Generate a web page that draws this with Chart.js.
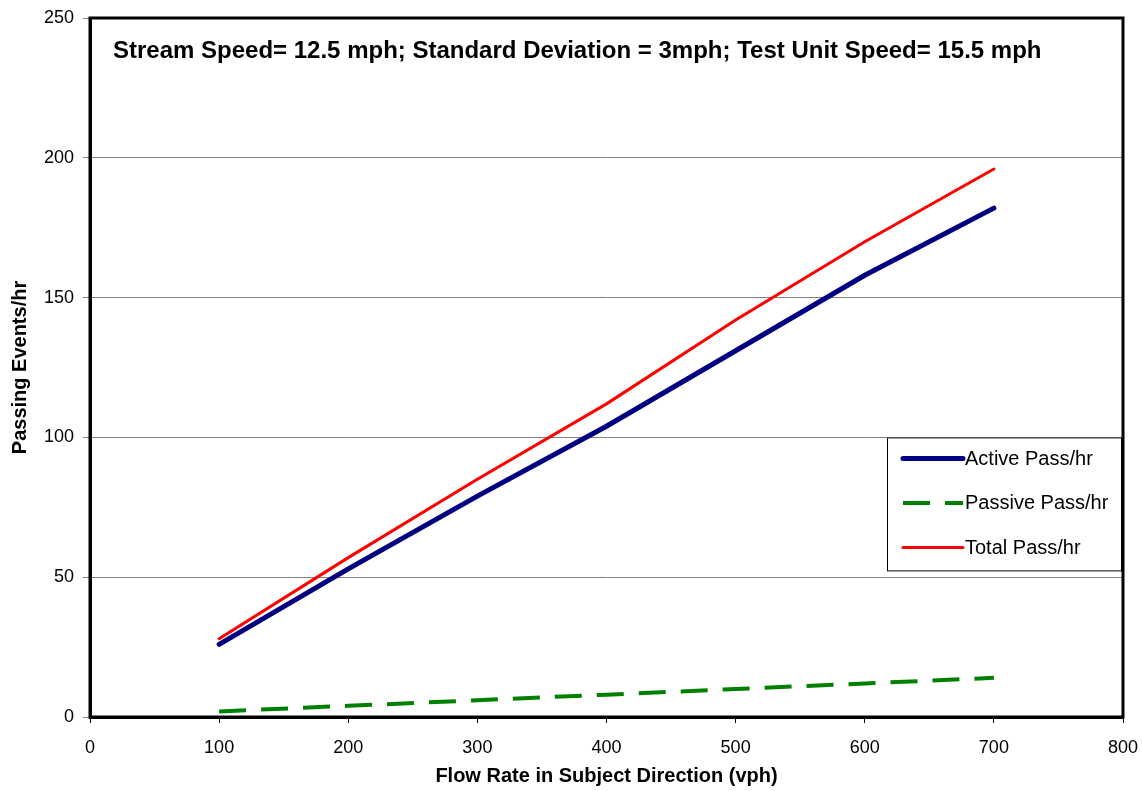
<!DOCTYPE html>
<html>
<head>
<meta charset="utf-8">
<script src="https://cdn.jsdelivr.net/npm/chart.js@4/dist/chart.umd.min.js"></script>
<style>
  html, body { margin: 0; padding: 0; background: #fff; }
  #wrap { width: 1142px; height: 791px; }
</style>
</head>
<body>
<div id="wrap"><canvas id="chart" width="1142" height="791"></canvas></div>
<script>
// Data
const flowRates = [100, 200, 300, 400, 500, 600, 700];
const activePass = [26, 53, 79, 104, 131, 158, 182];
const passivePass = [2, 4, 6, 8, 10, 12, 14];
const totalPass = [28, 57, 85, 112, 142, 170, 196];

const xTicks = [0, 100, 200, 300, 400, 500, 600, 700, 800];
const yTicks = [0, 50, 100, 150, 200, 250];

const noteText = "Stream Speed= 12.5 mph; Standard Deviation = 3mph; Test Unit Speed= 15.5 mph";
const FONT = "'Liberation Sans', Arial, sans-serif";

function toPoints(xs, ys) {
    let out = [];
    for (let i = 0; i < xs.length; i++) out.push({x: xs[i], y: ys[i]});
    return out;
}

const series = [
    {label: "Active Pass/hr", data: activePass, color: "#000080", width: 5, dash: []},
    {label: "Passive Pass/hr", data: passivePass, color: "#008000", width: 4, dash: [27, 15]},
    {label: "Total Pass/hr", data: totalPass, color: "#ff0000", width: 3, dash: []},
];

// Frame, note text and legend box
const decorations = {
    id: "decorations",
    afterDraw(chart) {
        const ctx = chart.ctx;
        const a = chart.chartArea;
        ctx.save();

        // black frame round the plot
        ctx.strokeStyle = "#000";
        ctx.lineWidth = 3;
        ctx.strokeRect(a.left, a.top, a.right - a.left, a.bottom - a.top);

        // note inside the plot
        ctx.fillStyle = "#000";
        ctx.font = "bold 24px " + FONT;
        ctx.textBaseline = "middle";
        ctx.textAlign = "left";
        ctx.fillText(noteText, a.left + 23, a.top + 33);

        // legend
        const yScale = chart.scales.y;
        const boxTop = yScale.getPixelForValue(100);
        const boxL = a.right - 236, boxR = a.right - 2, boxB = boxTop + 133;
        ctx.fillStyle = "#fff";
        ctx.fillRect(boxL, boxTop, boxR - boxL, boxB - boxTop);
        ctx.strokeStyle = "#000";
        ctx.lineWidth = 1;
        ctx.strokeRect(boxL + 0.5, boxTop + 0.5, boxR - boxL, boxB - boxTop);

        ctx.font = "20px " + FONT;
        series.forEach((s, i) => {
            const y = boxTop + 21 + i * 44.5;
            ctx.beginPath();
            ctx.strokeStyle = s.color;
            ctx.lineWidth = s.width;
            ctx.lineCap = s.dash.length ? "butt" : "round";
            ctx.setLineDash(s.dash);
            ctx.moveTo(boxL + 16, y);
            ctx.lineTo(boxL + 76, y);
            ctx.stroke();
            ctx.setLineDash([]);
            ctx.fillStyle = "#000";
            ctx.fillText(s.label, boxL + 78, y + 1);
        });
        ctx.restore();
    }
};

new Chart(document.getElementById("chart").getContext("2d"), {
    type: "line",
    data: {
        datasets: series.map(s => ({
            label: s.label,
            data: toPoints(flowRates, s.data),
            borderColor: s.color,
            backgroundColor: s.color,
            borderWidth: s.width,
            borderDash: s.dash,
            borderCapStyle: s.dash.length ? "butt" : "round",
            pointRadius: 0,
            tension: 0,
            fill: false,
        })),
    },
    options: {
        responsive: false,
        animation: false,
        layout: {padding: {left: 0, top: 18, right: 19, bottom: 0}},
        plugins: {
            legend: {display: false},
            tooltip: {enabled: false},
        },
        scales: {
            x: {
                type: "linear",
                min: 0,
                max: 800,
                afterBuildTicks: scale => { scale.ticks = xTicks.map(v => ({value: v})); },
                ticks: {color: "#000", font: {family: FONT, size: 18}, padding: 14, maxRotation: 0},
                grid: {drawOnChartArea: false, drawTicks: true, tickLength: 6, color: "#000"},
                border: {display: true, color: "#000", width: 3},
                title: {
                    display: true,
                    text: "Flow Rate in Subject Direction (vph)",
                    color: "#000",
                    font: {family: FONT, size: 20, weight: "bold"},
                    padding: {top: 4, bottom: 3},
                },
                afterFit: scale => {
                    scale.height = 74;
                    scale.paddingLeft = 0;
                    scale.paddingRight = 0;
                },
            },
            y: {
                type: "linear",
                min: 0,
                max: 250,
                afterBuildTicks: scale => { scale.ticks = yTicks.map(v => ({value: v})); },
                ticks: {color: "#000", font: {family: FONT, size: 18}, padding: 9},
                grid: {color: "#808080", lineWidth: 1, tickLength: 7, tickColor: "#808080"},
                border: {display: true, color: "#000", width: 3},
                title: {
                    display: true,
                    text: "Passing Events/hr",
                    color: "#000",
                    font: {family: FONT, size: 20, weight: "bold"},
                    padding: {top: 8, bottom: 4},
                },
                afterFit: scale => {
                    scale.width = 90;
                    scale.paddingTop = 0;
                    scale.paddingBottom = 0;
                },
            },
        },
    },
    plugins: [decorations],
});
</script>
</body>
</html>
